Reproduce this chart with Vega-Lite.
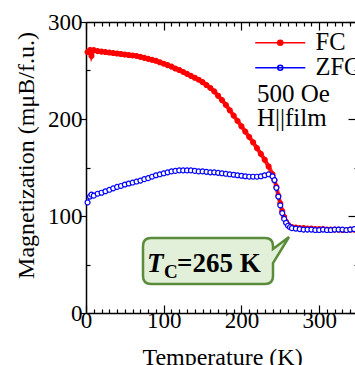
{
  "$schema": "https://vega.github.io/schema/vega-lite/v6.json",
  "width": 272,
  "height": 291,
  "autosize": {"type": "none"},
  "padding": {"left": 86, "top": 22, "right": 0, "bottom": 52},
  "background": "white",
  "config": {
    "font": "Liberation Serif",
    "view": {"stroke": null},
    "axis": {"grid": false, "domainColor": "black", "domainWidth": 1.5, "tickColor": "black", "tickWidth": 1.2, "labelFont": "Liberation Serif", "labelFontSize": 23, "labelColor": "black", "titleFont": "Liberation Serif", "titleFontSize": 24, "titleFontWeight": "normal", "titleColor": "black", "labelOverlap": false, "labelFlush": false},
    "legend": {"labelFont": "Liberation Serif", "labelFontSize": 24.5, "labelColor": "black", "orient": "none", "legendX": 182, "legendY": 8.5, "padding": 0, "symbolType": "M-5,0H5M0.5,0A0.5,0.5 0 1,1 -0.5,0A0.5,0.5 0 1,1 0.5,0", "symbolSize": 100, "symbolStrokeWidth": 1.6, "labelOffset": 23, "rowPadding": 0, "symbolOpacity": 1},
    "text": {"font": "Liberation Serif"}
  },
  "datasets": {
    "mag": [
      {"series": "FC", "T": 2, "M": 269}, {"series": "FC", "T": 5, "M": 271}, {"series": "FC", "T": 7, "M": 265}, {"series": "FC", "T": 10, "M": 271}, {"series": "FC", "T": 15, "M": 270}, {"series": "FC", "T": 20, "M": 269.5}, {"series": "FC", "T": 25, "M": 269}, {"series": "FC", "T": 30, "M": 268.5}, {"series": "FC", "T": 35, "M": 268}, {"series": "FC", "T": 40, "M": 267.5}, {"series": "FC", "T": 45, "M": 267}, {"series": "FC", "T": 50, "M": 266.5}, {"series": "FC", "T": 55, "M": 266}, {"series": "FC", "T": 60, "M": 265.5}, {"series": "FC", "T": 65, "M": 265}, {"series": "FC", "T": 70, "M": 264}, {"series": "FC", "T": 75, "M": 263}, {"series": "FC", "T": 80, "M": 262}, {"series": "FC", "T": 85, "M": 261}, {"series": "FC", "T": 90, "M": 260}, {"series": "FC", "T": 95, "M": 258.5}, {"series": "FC", "T": 100, "M": 257}, {"series": "FC", "T": 105, "M": 255.5}, {"series": "FC", "T": 110, "M": 254}, {"series": "FC", "T": 115, "M": 252}, {"series": "FC", "T": 120, "M": 250.5}, {"series": "FC", "T": 125, "M": 248.5}, {"series": "FC", "T": 130, "M": 246.5}, {"series": "FC", "T": 135, "M": 244.5}, {"series": "FC", "T": 140, "M": 242.5}, {"series": "FC", "T": 145, "M": 240.5}, {"series": "FC", "T": 150, "M": 238}, {"series": "FC", "T": 155, "M": 235}, {"series": "FC", "T": 160, "M": 232}, {"series": "FC", "T": 165, "M": 228.5}, {"series": "FC", "T": 170, "M": 224}, {"series": "FC", "T": 175, "M": 219.5}, {"series": "FC", "T": 180, "M": 214.5}, {"series": "FC", "T": 185, "M": 209}, {"series": "FC", "T": 190, "M": 203.5}, {"series": "FC", "T": 195, "M": 198}, {"series": "FC", "T": 200, "M": 192.5}, {"series": "FC", "T": 205, "M": 187}, {"series": "FC", "T": 210, "M": 181.5}, {"series": "FC", "T": 215, "M": 176}, {"series": "FC", "T": 220, "M": 170}, {"series": "FC", "T": 225, "M": 164}, {"series": "FC", "T": 230, "M": 158}, {"series": "FC", "T": 235, "M": 151}, {"series": "FC", "T": 240, "M": 143}, {"series": "FC", "T": 242.5, "M": 137}, {"series": "FC", "T": 245, "M": 130}, {"series": "FC", "T": 247.5, "M": 121}, {"series": "FC", "T": 250, "M": 113}, {"series": "FC", "T": 252.5, "M": 105}, {"series": "FC", "T": 255, "M": 99}, {"series": "FC", "T": 257.5, "M": 94}, {"series": "FC", "T": 260, "M": 91}, {"series": "FC", "T": 265, "M": 88.5}, {"series": "FC", "T": 270, "M": 88}, {"series": "FC", "T": 275, "M": 87.5}, {"series": "FC", "T": 280, "M": 87.5}, {"series": "FC", "T": 285, "M": 87}, {"series": "FC", "T": 290, "M": 87}, {"series": "FC", "T": 295, "M": 86.5}, {"series": "FC", "T": 300, "M": 86.5}, {"series": "FC", "T": 305, "M": 86.5}, {"series": "FC", "T": 310, "M": 86}, {"series": "FC", "T": 315, "M": 86}, {"series": "FC", "T": 320, "M": 86}, {"series": "FC", "T": 325, "M": 86}, {"series": "FC", "T": 330, "M": 85.5}, {"series": "FC", "T": 335, "M": 85.5}, {"series": "FC", "T": 340, "M": 86}, {"series": "FC", "T": 345, "M": 86}, {"series": "FC", "T": 350, "M": 86},
      {"series": "ZFC", "T": 2, "M": 114}, {"series": "ZFC", "T": 5, "M": 120}, {"series": "ZFC", "T": 7, "M": 122}, {"series": "ZFC", "T": 10, "M": 121}, {"series": "ZFC", "T": 15, "M": 123}, {"series": "ZFC", "T": 20, "M": 124}, {"series": "ZFC", "T": 25, "M": 125.5}, {"series": "ZFC", "T": 30, "M": 127}, {"series": "ZFC", "T": 35, "M": 128.5}, {"series": "ZFC", "T": 40, "M": 130}, {"series": "ZFC", "T": 45, "M": 131}, {"series": "ZFC", "T": 50, "M": 132.5}, {"series": "ZFC", "T": 55, "M": 133.5}, {"series": "ZFC", "T": 60, "M": 134.5}, {"series": "ZFC", "T": 65, "M": 135.5}, {"series": "ZFC", "T": 70, "M": 136.5}, {"series": "ZFC", "T": 75, "M": 138}, {"series": "ZFC", "T": 80, "M": 139}, {"series": "ZFC", "T": 85, "M": 140.5}, {"series": "ZFC", "T": 90, "M": 142}, {"series": "ZFC", "T": 95, "M": 143}, {"series": "ZFC", "T": 100, "M": 144}, {"series": "ZFC", "T": 105, "M": 145}, {"series": "ZFC", "T": 110, "M": 146}, {"series": "ZFC", "T": 115, "M": 146.5}, {"series": "ZFC", "T": 120, "M": 147}, {"series": "ZFC", "T": 125, "M": 147}, {"series": "ZFC", "T": 130, "M": 147}, {"series": "ZFC", "T": 135, "M": 147}, {"series": "ZFC", "T": 140, "M": 146.5}, {"series": "ZFC", "T": 145, "M": 146}, {"series": "ZFC", "T": 150, "M": 146}, {"series": "ZFC", "T": 155, "M": 145.5}, {"series": "ZFC", "T": 160, "M": 145}, {"series": "ZFC", "T": 165, "M": 145}, {"series": "ZFC", "T": 170, "M": 144.5}, {"series": "ZFC", "T": 175, "M": 144}, {"series": "ZFC", "T": 180, "M": 143.5}, {"series": "ZFC", "T": 185, "M": 143}, {"series": "ZFC", "T": 190, "M": 142.5}, {"series": "ZFC", "T": 195, "M": 142}, {"series": "ZFC", "T": 200, "M": 141.5}, {"series": "ZFC", "T": 205, "M": 141}, {"series": "ZFC", "T": 210, "M": 140.5}, {"series": "ZFC", "T": 215, "M": 140.5}, {"series": "ZFC", "T": 220, "M": 140.5}, {"series": "ZFC", "T": 225, "M": 141}, {"series": "ZFC", "T": 230, "M": 142}, {"series": "ZFC", "T": 235, "M": 143}, {"series": "ZFC", "T": 240, "M": 141}, {"series": "ZFC", "T": 242.5, "M": 137}, {"series": "ZFC", "T": 245, "M": 129}, {"series": "ZFC", "T": 247.5, "M": 120}, {"series": "ZFC", "T": 250, "M": 111}, {"series": "ZFC", "T": 252.5, "M": 103}, {"series": "ZFC", "T": 255, "M": 97}, {"series": "ZFC", "T": 257.5, "M": 93}, {"series": "ZFC", "T": 260, "M": 90}, {"series": "ZFC", "T": 262.5, "M": 88.5}, {"series": "ZFC", "T": 265, "M": 87.5}, {"series": "ZFC", "T": 270, "M": 87}, {"series": "ZFC", "T": 275, "M": 86.5}, {"series": "ZFC", "T": 280, "M": 86}, {"series": "ZFC", "T": 285, "M": 86}, {"series": "ZFC", "T": 290, "M": 86}, {"series": "ZFC", "T": 295, "M": 85.5}, {"series": "ZFC", "T": 300, "M": 85.5}, {"series": "ZFC", "T": 305, "M": 86}, {"series": "ZFC", "T": 310, "M": 85.5}, {"series": "ZFC", "T": 315, "M": 85.5}, {"series": "ZFC", "T": 320, "M": 86}, {"series": "ZFC", "T": 325, "M": 86}, {"series": "ZFC", "T": 330, "M": 86}, {"series": "ZFC", "T": 335, "M": 85.5}, {"series": "ZFC", "T": 340, "M": 86}, {"series": "ZFC", "T": 345, "M": 86.5}, {"series": "ZFC", "T": 350, "M": 86}
    ]
  },
  "layer": [
    {
      "data": {"name": "mag"},
      "mark": {"type": "line", "opacity": 0.9},
      "encoding": {
        "x": {"field": "T", "type": "quantitative", "scale": {"domain": [0, 350], "nice": false, "zero": false},
          "axis": {"orient": "bottom", "values": [0,10,20,30,40,50,60,70,80,90,100,110,120,130,140,150,160,170,180,190,200,210,220,230,240,250,260,270,280,290,300,310,320,330,340,350],
            "labelExpr": "datum.value % 100 === 0 ? datum.label : ''",
            "tickSize": {"condition": {"test": "datum.value % 100 === 0", "value": -8}, "value": -4},
            "labelPadding": 4, "labelFont": "Liberation Serif", "titleFont": "Liberation Serif",
            "title": "Temperature (K)", "titleY": 51, "titleBaseline": "alphabetic"}},
        "y": {"field": "M", "type": "quantitative", "scale": {"domain": [0, 300], "nice": false},
          "axis": {"orient": "left", "values": [0,50,100,150,200,250,300],
            "labelExpr": "datum.value % 100 === 0 ? datum.label : ''",
            "tickSize": {"condition": {"test": "datum.value % 100 === 0", "value": 6}, "value": -4},
            "labelPadding": -2, "labelFont": "Liberation Serif", "titleFont": "Liberation Serif",
            "title": "Magnetization (mμB/f.u.)", "titleX": -53, "titleY": 133, "titleBaseline": "alphabetic", "titleAngle": 270, "titleAlign": "center"}},
        "color": {"field": "series", "type": "nominal", "scale": {"domain": ["FC", "ZFC"], "range": ["#ff0000", "#0000ff"]},
          "legend": {"title": null}},
        "strokeWidth": {"condition": {"test": "datum.series === 'FC'", "value": 4}, "value": 1}
      }
    },
    {
      "data": {"name": "mag"},
      "mark": {"type": "point", "filled": false, "size": 24, "strokeWidth": 1.2, "opacity": 1},
      "encoding": {
        "x": {"field": "T", "type": "quantitative", "scale": {"domain": [0, 350], "nice": false, "zero": false},
          "axis": {"orient": "top", "values": [0,10,20,30,40,50,60,70,80,90,100,110,120,130,140,150,160,170,180,190,200,210,220,230,240,250,260,270,280,290,300,310,320,330,340,350],
            "labels": false, "title": null,
            "tickSize": {"condition": {"test": "datum.value % 100 === 0", "value": -8}, "value": -4}}},
        "y": {"field": "M", "type": "quantitative", "scale": {"domain": [0, 300], "nice": false},
          "axis": {"orient": "right", "values": [0,50,100,150,200,250,300], "labels": false, "title": null,
            "tickSize": {"condition": {"test": "datum.value % 100 === 0", "value": -10}, "value": -4}}},
        "color": {"field": "series", "type": "nominal", "legend": {"title": null}},
        "fill": {"field": "series", "type": "nominal", "scale": {"domain": ["FC", "ZFC"], "range": ["#ff0000", "#ffffff"]}, "legend": {"title": null}}
      }
    },
    {
      "data": {"values": [{}]},
      "mark": {"type": "point", "shape": "M-57,-23H57Q65,-23 65,-15V-12L81,-24L65,2V15Q65,23 57,23H-57Q-65,23 -65,15V-15Q-65,-23 -57,-23Z", "size": 4, "filled": true, "fill": "#e2efd9", "stroke": "#5b8c3a", "strokeWidth": 2.5, "opacity": 1},
      "encoding": {"x": {"datum": 157, "type": "quantitative", "axis": null}, "y": {"datum": 53.6, "type": "quantitative", "axis": null}}
    },
    {
      "data": {"values": [{}]},
      "mark": {"type": "text", "text": "T", "font": "Liberation Serif", "fontSize": 27, "fontWeight": "bold", "fontStyle": "italic", "align": "left", "baseline": "alphabetic", "dx": -61, "dy": 11, "color": "black"},
      "encoding": {"x": {"datum": 157, "type": "quantitative", "axis": null}, "y": {"datum": 53.6, "type": "quantitative", "axis": null}}
    },
    {
      "data": {"values": [{}]},
      "mark": {"type": "text", "text": "C", "font": "Liberation Serif", "fontSize": 19, "fontWeight": "bold", "align": "left", "baseline": "alphabetic", "dx": -44, "dy": 17, "color": "black"},
      "encoding": {"x": {"datum": 157, "type": "quantitative", "axis": null}, "y": {"datum": 53.6, "type": "quantitative", "axis": null}}
    },
    {
      "data": {"values": [{}]},
      "mark": {"type": "text", "text": "=265 K", "font": "Liberation Serif", "fontSize": 27, "fontWeight": "bold", "align": "left", "baseline": "alphabetic", "dx": -31, "dy": 11, "color": "black"},
      "encoding": {"x": {"datum": 157, "type": "quantitative", "axis": null}, "y": {"datum": 53.6, "type": "quantitative", "axis": null}}
    },
    {
      "data": {"values": [{}]},
      "mark": {"type": "text", "text": "500 Oe", "font": "Liberation Serif", "fontSize": 25, "align": "left", "baseline": "alphabetic", "color": "black"},
      "encoding": {"x": {"datum": 220, "type": "quantitative", "axis": null}, "y": {"datum": 217.5, "type": "quantitative", "axis": null}}
    },
    {
      "data": {"values": [{}]},
      "mark": {"type": "text", "text": "H||film", "font": "Liberation Serif", "fontSize": 25, "align": "left", "baseline": "alphabetic", "color": "black"},
      "encoding": {"x": {"datum": 220, "type": "quantitative", "axis": null}, "y": {"datum": 192.8, "type": "quantitative", "axis": null}}
    }
  ],
  "resolve": {"axis": {"x": "independent", "y": "independent"}}
}
